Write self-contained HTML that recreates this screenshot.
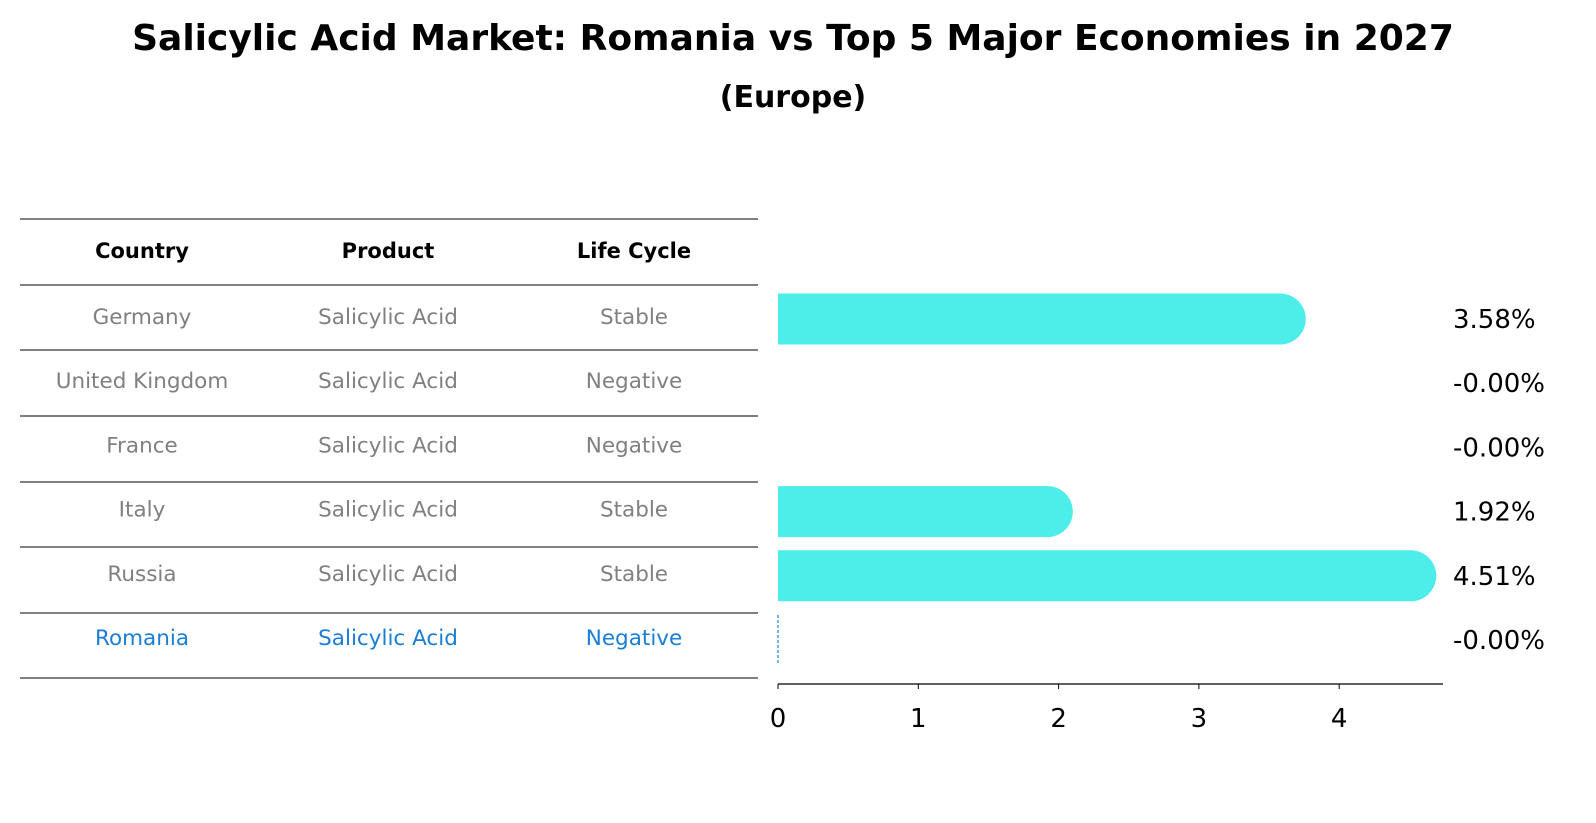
<!DOCTYPE html>
<html><head><meta charset="utf-8"><style>
body{margin:0;background:#fff;font-family:"DejaVu Sans","Liberation Sans",sans-serif;}
#wrap{position:relative;width:1596px;height:823px;overflow:hidden;}
</style></head><body>
<div id="wrap">
<svg id="svg" width="1596" height="823" style="position:absolute;left:0;top:0">
<text x="793" y="50" text-anchor="middle" font-size="36" font-weight="bold" font-family="'DejaVu Sans',sans-serif">Salicylic Acid Market: Romania vs Top 5 Major Economies in 2027</text>
<text x="793" y="107" text-anchor="middle" font-size="30" font-weight="bold" font-family="'DejaVu Sans',sans-serif">(Europe)</text>
</svg>
</div>
<script>
const countries=["Germany","United Kingdom","France","Italy","Russia","Romania"];
const products=["Salicylic Acid","Salicylic Acid","Salicylic Acid","Salicylic Acid","Salicylic Acid","Salicylic Acid"];
const lifeCycles=["Stable","Negative","Negative","Stable","Stable","Negative"];
const values=[3.58,-0.00,-0.00,1.92,4.51,-0.00];
const valueLabels=["3.58%","-0.00%","-0.00%","1.92%","4.51%","-0.00%"];
const xTicks=[0,1,2,3,4];
const headers=["Country","Product","Life Cycle"];

const NS="http://www.w3.org/2000/svg";
const svg=document.getElementById('svg');
function mk(tag,attrs){const e=document.createElementNS(NS,tag);for(const k in attrs)e.setAttribute(k,attrs[k]);svg.appendChild(e);return e;}
const x0=778,xPer=140.3,xMax=4.74;
const xs=v=>x0+v*xPer;
const rowY=i=>319+i*64.2;
const colX=[142,388,634];
const F="'DejaVu Sans',sans-serif";
const lineYs=[219,285,350,416,482,547,613,678];
lineYs.forEach(y=>{const l=mk('line',{x1:20,x2:758,y1:y,y2:y,stroke:'#000','stroke-width':1});

});
headers.forEach((h,j)=>{const t=mk('text',{x:colX[j],y:258,'text-anchor':'middle','font-size':21,'font-weight':'bold','font-family':F});t.textContent=h;

});
countries.forEach((c,i)=>{
 const col=i===countries.length-1?'#1a7fd4':'#808080';
 [c,products[i],lifeCycles[i]].forEach((s,j)=>{const t=mk('text',{x:colX[j],y:rowY(i)+5,'text-anchor':'middle','font-size':21.5,fill:col,'font-family':F});t.textContent=s;
 
 });
 const y=rowY(i),h=51,v=values[i];
 if(v>0){const w=xs(v)-x0;
  const p=mk('path',{d:`M${x0},${y-h/2} H${x0+w} A${h/2},${h/2} 0 0 1 ${x0+w},${y+h/2} H${x0} Z`,fill:'#4deeea'});
  
  }
 if(i===countries.length-1){const l=mk('line',{x1:x0,x2:x0,y1:y-25,y2:y+25,stroke:'#1a7fd4','stroke-width':1.2,'stroke-dasharray':'3,2'});
  
  }
 const t=mk('text',{x:1453,y:y+9,'font-size':26,'font-family':F});t.textContent=valueLabels[i];
 
 
});
const ax=mk('line',{x1:x0,x2:xs(xMax),y1:684,y2:684,stroke:'#000','stroke-width':1.2});


xTicks.forEach(v=>{const l=mk('line',{x1:xs(v),x2:xs(v),y1:684,y2:689,stroke:'#000'});
 
 
 const t=mk('text',{x:xs(v),y:727,'text-anchor':'middle','font-size':26,'font-family':F});t.textContent=v;
 
 });
</script>
</body></html>
